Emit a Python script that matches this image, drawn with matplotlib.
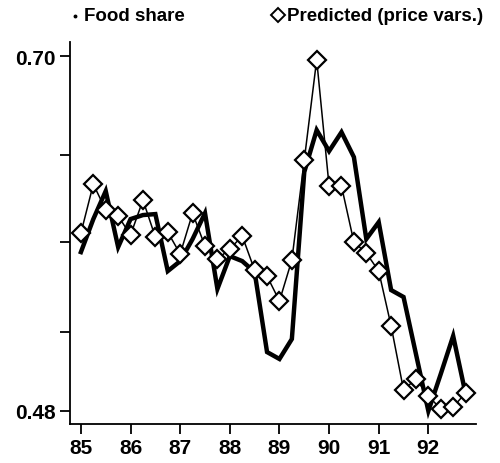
import numpy as np
import matplotlib.pyplot as plt
from matplotlib.lines import Line2D

plt.rcParams['font.family'] = ['Liberation Sans', 'DejaVu Sans']

# quarterly, 1985Q1 .. 1992Q4
quarters = np.arange(32) / 4.0 + 85

food_share = [0.5785, 0.5990, 0.6164, 0.5816, 0.5990, 0.6015, 0.6021, 0.5667,
              0.5729, 0.5866, 0.6027, 0.5556, 0.5760, 0.5729, 0.5661, 0.5164,
              0.5121, 0.5245, 0.6282, 0.6543, 0.6412, 0.6530, 0.6375, 0.5866,
              0.5971, 0.5549, 0.5506, 0.5152, 0.4798, 0.5028, 0.5264, 0.4904]

predicted = [0.5903, 0.6207, 0.6046, 0.6009, 0.5891, 0.6108, 0.5878, 0.5909,
             0.5773, 0.6027, 0.5822, 0.5742, 0.5804, 0.5885, 0.5673, 0.5636,
             0.5481, 0.5736, 0.6356, 0.6980, 0.6195, 0.6195, 0.5847, 0.5779,
             0.5667, 0.5326, 0.4929, 0.4997, 0.4891, 0.4811, 0.4823, 0.4910]

ytick_vals = [0.48, 0.529, 0.5847, 0.6386, 0.70]
ytick_labels = ['0.48', '', '', '', '0.70']
xtick_vals = [85, 86, 87, 88, 89, 90, 91, 92]

fig = plt.figure(figsize=(5, 4.64), dpi=100)
ax = fig.add_axes([0.14, 0.084, 0.812, 0.823])

ax.plot(quarters, food_share, color='black', lw=3.2, solid_joinstyle='miter')
ax.plot(quarters, predicted, color='black', lw=1.1, marker='D', markersize=9,
        markerfacecolor='white', markeredgecolor='black', markeredgewidth=1.6)

ax.set_xlim(84.78, 92.96)
ax.set_ylim(0.4717, 0.7089)
ax.set_xticks(xtick_vals)
ax.set_xticklabels([str(x) for x in xtick_vals])
ax.set_yticks(ytick_vals)
ax.set_yticklabels(ytick_labels)

for s in ['top', 'right']:
    ax.spines[s].set_visible(False)
for s in ['left', 'bottom']:
    ax.spines[s].set_linewidth(1.3)
ax.tick_params(direction='out', length=7, width=1.3, labelsize=15, pad=3)
for lab in ax.get_xticklabels() + ax.get_yticklabels():
    lab.set_fontweight('bold')

# legend across the top
fig.add_artist(Line2D([0.150], [0.963], marker='o', markersize=1.8, color='black',
                      transform=fig.transFigure))
fig.text(0.168, 0.965, 'Food share', fontsize=13.5, fontweight='bold', va='center')
fig.add_artist(Line2D([0.556], [0.965], marker='D', markersize=7, markerfacecolor='white',
                      markeredgecolor='black', markeredgewidth=1.4, transform=fig.transFigure))
fig.text(0.574, 0.965, 'Predicted (price vars.)', fontsize=13.5, fontweight='bold', va='center')

fig.savefig('out.png', dpi=100)
